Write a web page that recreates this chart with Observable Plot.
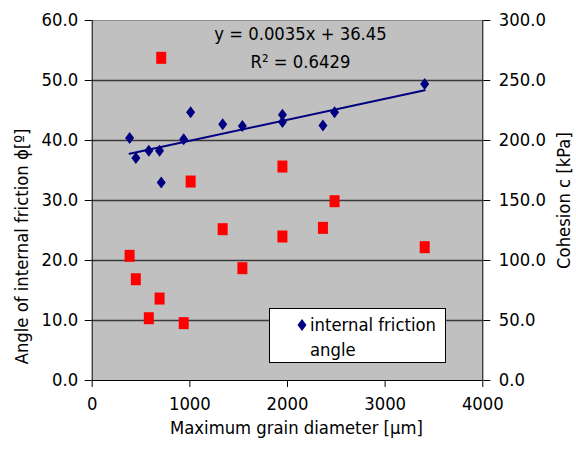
<!DOCTYPE html>
<html>
<head>
<meta charset="utf-8">
<script src="https://cdn.jsdelivr.net/npm/d3@7"></script>
<script src="https://cdn.jsdelivr.net/npm/@observablehq/plot@0.6"></script>
<style>
  body { margin: 0; background: #fff; }
  #chart { position: relative; width: 576px; height: 456px; }
  .legend {
    position: absolute; left: 269px; top: 308px; width: 177px; height: 55px;
    box-sizing: border-box; background: #fff; border: 1px solid #000;
    font-family: "DejaVu Sans Condensed", "DejaVu Sans", sans-serif;
    font-stretch: condensed; font-size: 18.3px; color: #000;
  }
  .legend svg { position: absolute; left: 26px; top: 9px; }
  .legend span { position: absolute; left: 40px; line-height: 20px; white-space: nowrap; }
</style>
</head>
<body>
<div id="chart"></div>
<script>
// Maximum grain diameter of each sample [µm]
const grainDiameter = [383, 447, 580, 690, 707, 937, 1008, 1336, 1538, 1948, 1948, 2363, 2482, 3405];
// Angle of internal friction φ [°]
const frictionAngle = [40.4, 37.1, 38.3, 38.3, 33.0, 40.2, 44.7, 42.7, 42.4, 44.3, 43.1, 42.5, 44.7, 49.4];
// Cohesion c [kPa]
const cohesion = [103.9, 84.4, 51.9, 68.3, 268.9, 47.8, 165.8, 126.1, 93.6, 178.3, 120.0, 127.2, 149.4, 111.1];

// Linear trend of friction angle against grain diameter
const trendSlope = 0.0035;
const trendIntercept = 36.45;
const trendR2 = 0.6429;

// Axis ticks
const diameterTicks = [0, 1000, 2000, 3000, 4000];
const angleTicks = [0, 10, 20, 30, 40, 50, 60];
const cohesionTicks = [0, 50, 100, 150, 200, 250, 300];

// Titles
const xTitle = "Maximum grain diameter [\u03BCm]";
const yTitle = "Angle of internal friction \u03D5[\u00BA]";
const y2Title = "Cohesion c [kPa]";
const legendLabel = ["internal friction", "angle"];

const rows = grainDiameter.map((d, i) => ({d, phi: frictionAngle[i], c: cohesion[i]}));
const cScale = 300 / 60; // cohesion units per degree on the shared vertical scale
const trend = d3.extent(grainDiameter).map(x => ({x, y: trendSlope * x + trendIntercept}));
const eqLabel = `y = ${trendSlope}x + ${trendIntercept}\nR\u00B2 = ${trendR2}`;

// Marker shapes: slightly tall diamond and rectangle
const diamondSym = {draw(ctx) { ctx.moveTo(0, -6); ctx.lineTo(4.5, 0); ctx.lineTo(0, 6); ctx.lineTo(-4.5, 0); ctx.closePath(); }};
const squareSym = {draw(ctx) { ctx.rect(-5, -6, 10, 12); }};

const W = 576, H = 456;
const mL = 91.7, mR = 576 - 482.3, mT = 20, mB = 456 - 380;
const font = '"DejaVu Sans Condensed", "DejaVu Sans", sans-serif';
const fs = 18.3;

const chart = Plot.plot({
  width: W, height: H,
  marginLeft: mL, marginRight: mR, marginTop: mT, marginBottom: mB,
  style: {fontFamily: font, fontSize: fs + "px", color: "#000", background: "#fff", fontStretch: "condensed"},
  x: {domain: [0, 4000]},
  y: {domain: [0, 60]},
  marks: [
    Plot.frame({fill: "#c0c0c0", stroke: null}),
    Plot.ruleY(angleTicks.filter(t => t > 0 && t < 60), {stroke: "#3a3a3a", strokeWidth: 1.3}),
    Plot.ruleY([60], {stroke: "#8c8c8c"}),
    Plot.ruleX([4000], {stroke: "#000"}),
    Plot.ruleX([0], {stroke: "#000"}),
    Plot.ruleY([0], {stroke: "#000"}),
    Plot.axisY({ticks: angleTicks, tickFormat: d => d.toFixed(1), anchor: "left", tickSize: 7, tickPadding: 7, label: null}),
    Plot.axisY({ticks: cohesionTicks.map(c => c / cScale), tickFormat: v => (v * cScale).toFixed(1), anchor: "right", tickSize: 7, tickPadding: 9, label: null}),
    Plot.axisX({ticks: diameterTicks, tickFormat: d => String(d), tickSize: 7, tickPadding: 9.5, label: null}),
    Plot.line(trend, {x: "x", y: "y", stroke: "#000080", strokeWidth: 2}),
    Plot.dot(rows, {x: "d", y: r => r.c / cScale, symbol: squareSym, fill: "#ff0000", stroke: null, r: 5}),
    Plot.dot(rows, {x: "d", y: "phi", symbol: diamondSym, fill: "#000080", stroke: null, r: 5}),
    Plot.text([eqLabel], {text: d => d, frameAnchor: "top", textAnchor: "middle", dx: 13, dy: 24.5, lineAnchor: "middle", lineHeight: 1.5, fontSize: fs, fill: "#000"}),
    Plot.text([xTitle], {text: d => d, frameAnchor: "bottom", textAnchor: "middle", dx: 9, dy: 48, lineAnchor: "middle", fontSize: fs, fill: "#000"}),
    Plot.text([yTitle], {text: d => d, frameAnchor: "left", textAnchor: "middle", rotate: -90, dx: -69.7, dy: 46, lineAnchor: "middle", fontSize: fs, fill: "#000"}),
    Plot.text([y2Title], {text: d => d, frameAnchor: "right", textAnchor: "middle", rotate: -90, dx: 81.7, dy: 0, lineAnchor: "middle", fontSize: fs, fill: "#000"})
  ]
});

const host = document.getElementById("chart");
host.appendChild(chart);

// Legend box (only the friction-angle series is listed)
const legend = document.createElement("div");
legend.className = "legend";
legend.innerHTML =
  `<svg width="12" height="14" viewBox="-6 -7 12 14"><path d="M0,-6L4.5,0L0,6L-4.5,0Z" fill="#000080"/></svg>` +
  `<span style="top:6px">${legendLabel[0]}</span>` +
  `<span style="top:31px">${legendLabel[1]}</span>`;
host.appendChild(legend);
</script>
</body>
</html>
